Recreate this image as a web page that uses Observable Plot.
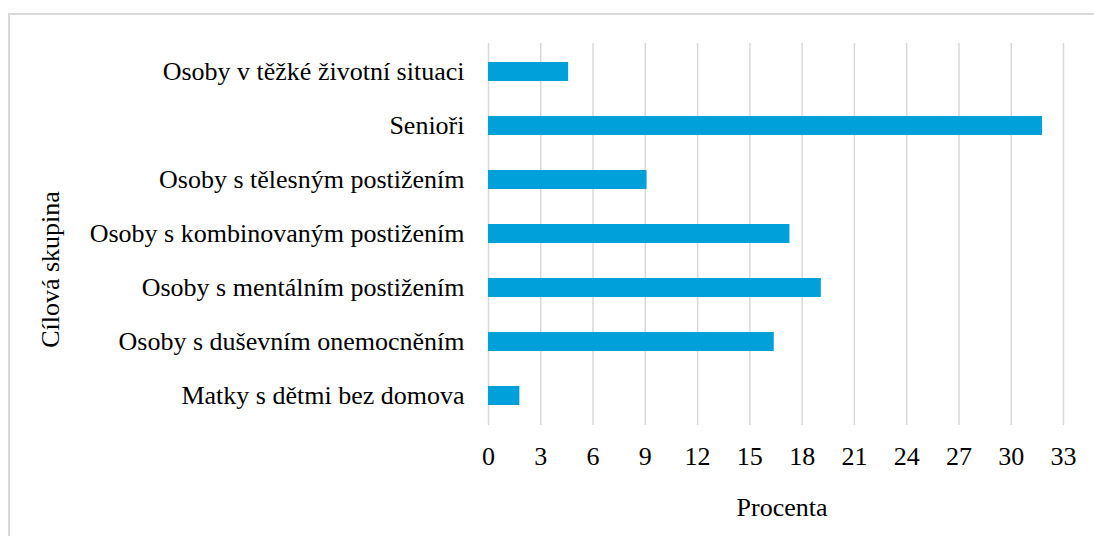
<!DOCTYPE html>
<html>
<head>
<meta charset="utf-8">
<script src="https://cdn.jsdelivr.net/npm/d3@7"></script>
<script src="https://cdn.jsdelivr.net/npm/@observablehq/plot@0.6"></script>
<style>
  html, body { margin: 0; padding: 0; background: #fff; }
  #wrap { position: relative; width: 1094px; height: 536px; overflow: hidden; }
  #frame { position: absolute; left: 8px; top: 13px; width: 1100px; height: 600px;
           border-top: 2px solid #d9d9d9; border-left: 2px solid #d9d9d9; box-sizing: border-box; }
  #chart { position: absolute; left: 0; top: 0; }
  #chart svg, #chart svg text, #chart svg g { font-family: 'Liberation Serif', 'Times New Roman', serif !important; }
</style>
</head>
<body>
<div id="wrap"><div id="frame"></div><div id="chart"></div></div>
<script>
const categories = [
  "Osoby v těžké životní situaci",
  "Senioři",
  "Osoby s tělesným postižením",
  "Osoby s kombinovaným postižením",
  "Osoby s mentálním postižením",
  "Osoby s duševním onemocněním",
  "Matky s dětmi bez domova"
];
const values = [4.6, 31.8, 9.1, 17.3, 19.1, 16.4, 1.8];
const xTicks = [0, 3, 6, 9, 12, 15, 18, 21, 24, 27, 30, 33];
const xLabel = "Procenta";
const yLabel = "Cílová skupina";

const data = categories.map((c, i) => ({category: c, value: values[i]}));
const font = "'Liberation Serif', 'Times New Roman', serif";
const fs = 26;

const chart = Plot.plot({
  width: 1094,
  height: 536,
  marginLeft: 488,
  marginRight: 31,
  marginTop: 43,
  marginBottom: 111,
  style: {fontFamily: font, fontSize: fs + "px", color: "#000", background: "transparent"},
  x: {domain: [0, 33], axis: null},
  y: {domain: categories, paddingInner: 0.64, paddingOuter: 0.32, axis: null},
  marks: [
    Plot.ruleX(xTicks, {stroke: "#d9d9d9", strokeWidth: 1.5}),
    Plot.barX(data, {x: "value", y: "category", fill: "#00A0DA"}),
    Plot.axisY({tickSize: 0, tickPadding: 24, label: null, fontSize: fs, fontFamily: font}),
    Plot.axisX({ticks: xTicks, tickSize: 0, tickPadding: 21, label: null, fontSize: fs, fontFamily: font}),
    Plot.text([xLabel], {frameAnchor: "bottom", dy: 90, dx: 6, fontSize: fs, fontFamily: font}),
    Plot.text([yLabel], {frameAnchor: "left", textAnchor: "middle", dx: -438, dy: 35, rotate: -90, fontSize: fs, fontFamily: font})
  ]
});
document.getElementById("chart").appendChild(chart);
</script>
</body>
</html>
